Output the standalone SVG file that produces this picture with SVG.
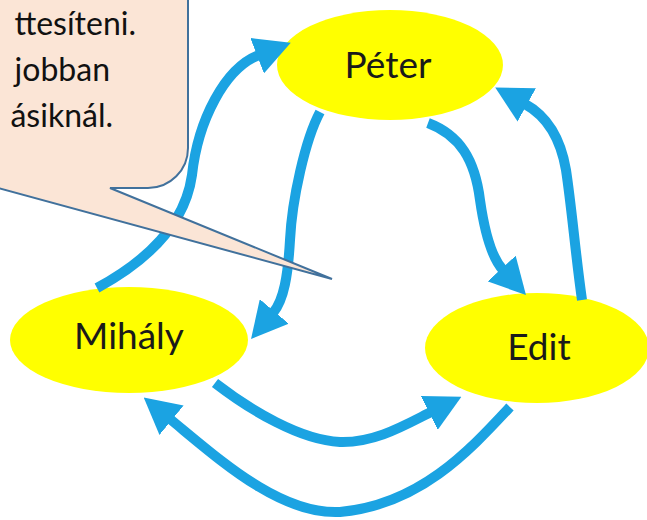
<svg xmlns="http://www.w3.org/2000/svg" width="647" height="520" viewBox="0 0 647 520">
  <style>
    .node { fill: #FFFF00; }
    .label { font-family: Lato, "Liberation Sans", sans-serif; font-size: 37px; fill: #1a1a1a; text-anchor: middle; }
    .conn { fill: none; stroke: #1BA3E2; stroke-width: 10; stroke-linecap: butt; marker-end: url(#head); }
    .callout { fill: #FBE5D6; stroke: #41719C; stroke-width: 2; stroke-linejoin: miter; }
    .ctext { font-family: Lato, "Liberation Sans", sans-serif; font-size: 32px; fill: #111; text-anchor: end; }
  </style>
  <defs>
    <marker id="head" markerUnits="userSpaceOnUse" viewBox="0 0 36 38" refX="2" refY="19" markerWidth="36" markerHeight="38" orient="auto">
      <path d="M0,0 L36,19 L0,38 Z" fill="#1BA3E2"/>
    </marker>
  </defs>
  <rect x="0" y="0" width="647" height="520" fill="#FFFFFF"/>

  <g id="node-peter">
    <ellipse class="node" cx="390" cy="65" rx="113" ry="55"/>
    <text class="label" x="388" y="78">Péter</text>
  </g>
  <g id="node-mihaly">
    <ellipse class="node" cx="129" cy="340" rx="119" ry="53"/>
    <text class="label" x="129" y="349">Mihály</text>
  </g>
  <g id="node-edit">
    <ellipse class="node" cx="537" cy="348" rx="112" ry="55"/>
    <text class="label" x="539" y="360">Edit</text>
  </g>

  <g id="connectors">
    <path class="conn" d="M97,288 C145,262 185,225 192,175 C198,120 225,68 259,55"/>
    <path class="conn" d="M320,112 C305,140 292,200 290,240 C288,275 284,300 273,313"/>
    <path class="conn" d="M428,123 C460,135 475,160 480,200 C485,235 492,258 503,270"/>
    <path class="conn" d="M582,300 C575,250 572,210 566,170 C560,135 545,115 525,104"/>
    <path class="conn" d="M215,383 C250,410 300,440 340,442 C375,443 405,425 431,412"/>
    <path class="conn" d="M510,407 C470,450 420,505 340,512 C280,515 220,460 170,419"/>
  </g>

  <g id="callout">
    <path class="callout" d="M-300,-100 H188 V148 A40,40 0 0 1 148,188 H110 L332,279 L-2,188 H-300 Z"/>
    <text class="ctext" x="136" y="35">ttesíteni.</text>
    <text class="ctext" x="110" y="81">jobban</text>
    <text class="ctext" x="113" y="127">ásiknál.</text>
  </g>
</svg>
